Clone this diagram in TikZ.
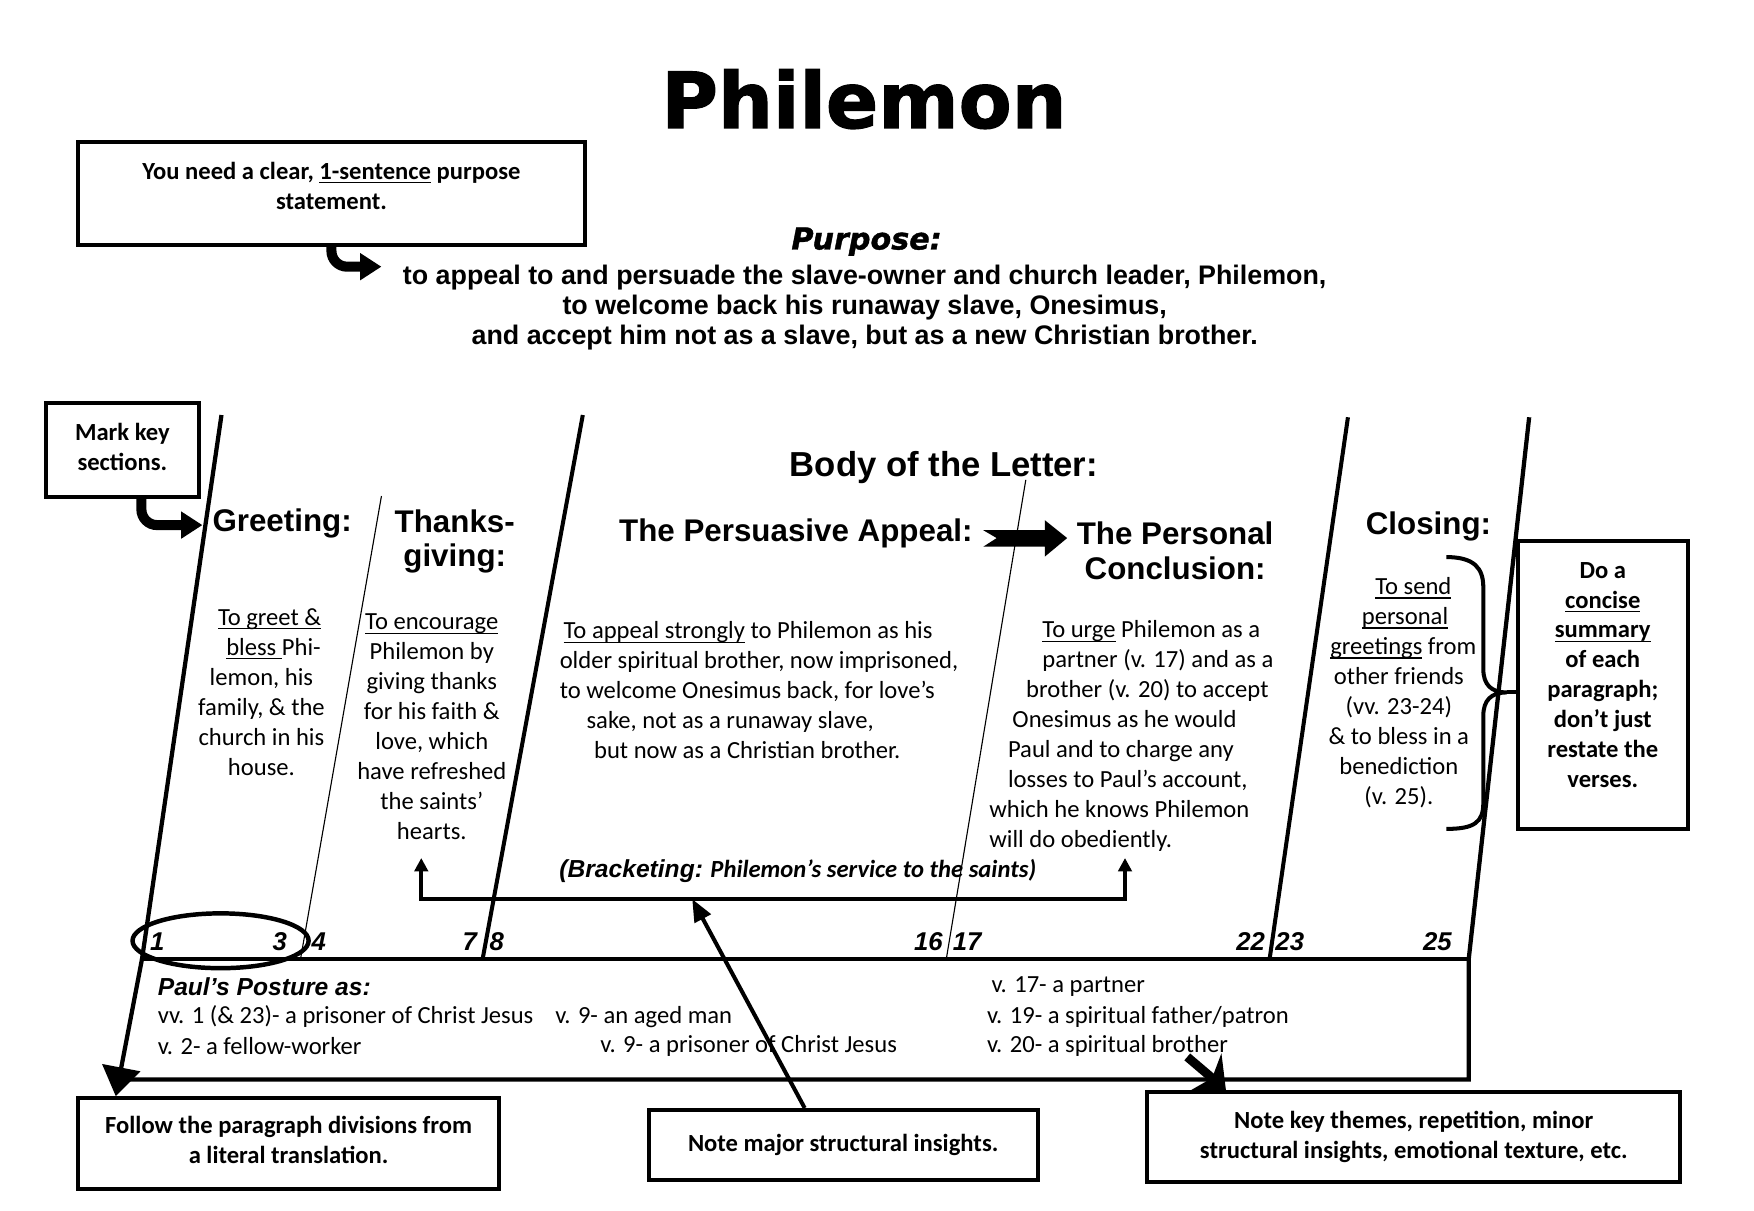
\documentclass[tikz,border=0pt]{standalone}
\usepackage{fontspec}
\setmainfont{Carlito}
\newfontfamily\arialfont{Liberation Sans}
\newfontfamily\heavyfont[FakeBold=1.6]{DejaVu Sans Bold}
\newfontfamily\heavyslant[FakeBold=1.2]{DejaVu Sans Bold Oblique}
\usepackage{tikz}
\usetikzlibrary{shapes.geometric, arrows.meta, calc}
\newsavebox\ulbox
\newcommand{\uln}[1]{\sbox\ulbox{#1}\rlap{\rule[-1.8pt]{\wd\ulbox}{0.5pt}}\usebox\ulbox}
\tikzstyle{notebox} = [draw, line width=1.8pt, align=center, inner sep=0pt, font=\bfseries\fontsize{11}{13.4}\selectfont]
\tikzstyle{header} = [align=center, inner sep=0pt, font=\arialfont\bfseries\fontsize{14}{15.6}\selectfont]
\tikzstyle{bodytext} = [align=center, inner sep=0pt, font=\fontsize{11}{13.4}\selectfont]
\tikzstyle{bodyleft} = [bodytext, align=left, anchor=west]
\tikzstyle{vnum} = [inner sep=0pt, font=\arialfont\bfseries\itshape\fontsize{11.5}{13}\selectfont]
\tikzstyle{posture} = [inner sep=0pt, anchor=west, font=\fontsize{11}{13.4}\selectfont]
\tikzstyle{divthick} = [line width=1.8pt]
\tikzstyle{divthin} = [line width=0.5pt]
\tikzstyle{boxline} = [line width=1.9pt]
\tikzstyle{bentarrow} = [line width=4.5pt, rounded corners=7pt, -{Triangle[length=9.5pt, width=11.5pt]}]
\tikzstyle{fatarrow} = [line width=4pt, -{Stealth[length=12pt, width=22pt]}]
\tikzstyle{pointer} = [line width=1.8pt, -{Triangle[length=10pt, width=8pt]}]
\tikzstyle{bracketline} = [line width=1.8pt, {Triangle[length=6pt, width=6pt]}-{Triangle[length=6pt, width=6pt]}]

\begin{document}
\begin{tikzpicture}[x=0.5pt, y=-0.5pt]
\useasboundingbox (0,0) rectangle (1568,1082);

% title and purpose statement
\node (title) [inner sep=0pt, font=\heavyfont\fontsize{34.5}{40}\selectfont] at (772.4,88.6) {Philemon};
\node (sentbox) [notebox, minimum width=226.7pt, minimum height=46.2pt] at (296.3,172.9) {You need a clear, \uln{1-sentence} purpose\\statement.\rule[-7pt]{0pt}{0pt}};
\node (purposehead) [inner sep=0pt, font=\heavyslant\fontsize{13.5}{16}\selectfont] at (774.7,216) {Purpose:};
\node (purposetext) [align=center, inner sep=0pt, font=\arialfont\bfseries\fontsize{12}{13.4}\selectfont] at (773,275) {to appeal to and persuade the slave-owner and church leader, Philemon,\\to welcome back his runaway slave, Onesimus,\\and accept him not as a slave, but as a new Christian brother.};
\coordinate (purposetip) at (341,238.4);
\draw[bentarrow] (sentbox.south) |- (purposetip);

% section dividers
\coordinate (l1top) at (198,371);   \coordinate (l1row) at (127,857);
\coordinate (l2top) at (341,443.4); \coordinate (l2row) at (268.7,857);
\coordinate (l3top) at (521,371);   \coordinate (l3row) at (431.5,857);
\coordinate (l4top) at (917,429);   \coordinate (l4row) at (846,857);
\coordinate (l5top) at (1205,373);  \coordinate (l5row) at (1135,857);
\coordinate (l6top) at (1367,373);  \coordinate (l6row) at (1313,857);
\coordinate (boxSE) at (1313,965);  \coordinate (boxSW) at (112,965);

\node (markbox) [notebox, minimum width=68.35pt, minimum height=41.75pt] at (109.4,402.3) {Mark key\\sections.\rule[-3pt]{0pt}{0pt}};
\coordinate (marktip) at (181,469.4);
\draw[bentarrow] ($(markbox.south)+(17,0)$) |- (marktip);

\draw[divthin] (l2top) -- (l2row);
\draw[divthin] (l4top) -- (l4row);
\draw[divthick] (l3top) -- (l3row);
\draw[divthick] (l5top) -- (l5row);
\draw[boxline] (l6top) -- (l6row) -- (boxSE) -- (boxSW);
\draw[boxline] (l1row) -- (l6row);

% headers
\node (bodyhead) [header, font=\arialfont\bfseries\fontsize{15.5}{17}\selectfont] at (843.8,418) {Body of the Letter:};
\node (greethead) [header] at (252.2,468) {Greeting:};
\node (thankshead) [header] at (406.5,484) {Thanks-\\giving:};
\node (appealhead) [header] at (711.5,477) {The Persuasive Appeal:};
\node (personalhead) [header] at (1050.5,492) {The Personal\\Conclusion:};
\node (closinghead) [header] at (1277,470.5) {Closing:};
\fill (879,474) -- (934,474) -- (934,465) -- (954,481) -- (934,497.6) -- (934,488.7) -- (879,488.7) -- (891,481) -- cycle;

% paragraph summaries
\node (greetbody) [bodytext] at (233.7,618.4) {\hspace*{7.3pt}\uln{To greet \&}\\\hspace*{10.8pt}\uln{bless\ }Phi-\\lemon, his\\family, \& the\\church in his\\house.};
\node (thanksbody) [bodytext] at (386,649.7) {\uln{To encourage}\\Philemon by\\giving thanks\\for his faith \&\\love, which\\have refreshed\\the saints’\\hearts.};
\node (appealbody) [bodyleft] at (500,617) {\hspace*{1.75pt}\uln{To appeal strongly} to Philemon as his\\older spiritual brother, now imprisoned,\\to welcome Onesimus back, for love’s\\\hspace*{12pt}sake, not as a runaway slave,\\\hspace*{15.35pt}but now as a Christian brother.};
\node (personalbody) [bodyleft] at (884,658) {\hspace*{23.75pt}\uln{To urge} Philemon as a\\\hspace*{23.75pt}partner (v. 17) and as a\\\hspace*{16.5pt}brother (v. 20) to accept\\\hspace*{10.35pt}Onesimus as he would\\\hspace*{8.35pt}Paul and to charge any\\\hspace*{8.35pt}losses to Paul’s account,\\which he knows Philemon\\will do obediently.};
\node (closingbody) [bodytext] at (1250.5,619.2) {\hspace*{13pt}\uln{To send}\\\hspace*{5.5pt}\uln{personal}\\\hspace*{4pt}\uln{greetings} from\\other friends\\(vv. 23-24)\\\& to bless in a\\benediction\\(v. 25).};

% brace to the summary note
\node (dobox) [notebox, minimum width=75.8pt, minimum height=128.35pt] at (1432.8,612.4) {Do a\\\uln{concise}\\\uln{summary}\\of each\\paragraph;\\don’t just\\restate the\\verses.\rule[-9pt]{0pt}{0pt}};
\coordinate (bracetip) at (1347,619);
\draw[line width=1.8pt] (1293,498) .. controls (1318,498) and (1326,508) .. (1326,525) -- (1326,598) .. controls (1326,612) and (1333,619) .. (bracetip) .. controls (1333,619) and (1326,626) .. (1326,640) -- (1326,718) .. controls (1326,735) and (1318,741) .. (1293,741);
\draw[line width=1.8pt] (bracetip) -- (dobox.west |- bracetip);

% bracketing
\node (brackettext) [inner sep=0pt, font=\bfseries\itshape\fontsize{11}{13}\selectfont] at (713.2,778.5) {{\arialfont (Bracketing:} Philemon’s service to the saints)};
\coordinate (brLtop) at (376.6,767); \coordinate (brL) at (376.6,803.7);
\coordinate (brRtop) at (1005.7,767); \coordinate (brR) at (1005.7,803.7);
\draw[bracketline] (brLtop) -- (brL) -- (brR) -- (brRtop);

% verse numbers
\node (n1) [vnum] at (140.7,842) {1};
\node (n3) [vnum] at (250,842) {3};
\node (n4) [vnum] at (285,842) {4};
\node (n7) [vnum] at (420,842) {7};
\node (n8) [vnum] at (444,842) {8};
\node (n16) [vnum] at (830,842) {16};
\node (n17) [vnum] at (864.5,842) {17};
\node (n22) [vnum] at (1118,842) {22};
\node (n23) [vnum] at (1153,842) {23};
\node (n25) [vnum] at (1285,842) {25};
\node (versering) [draw, ellipse, line width=2pt, inner sep=0pt, minimum width=78.7pt, minimum height=24.5pt] at (197.2,841) {};

% Paul's posture
\node (posturehead) [posture, font=\arialfont\bfseries\itshape\fontsize{11}{13}\selectfont] at (140.7,882) {Paul’s Posture as:};
\node (prisoner) [posture] at (140.7,909) {vv. 1 (\& 23)- a prisoner of Christ Jesus};
\node (fellow) [posture] at (140.7,935) {v. 2- a fellow-worker};
\node (aged) [posture] at (496,909) {v. 9- an aged man};
\node (prisoner2) [posture] at (536.4,935) {v. 9- a prisoner of Christ Jesus};
\node (partner) [posture] at (886,882) {v. 17- a partner};
\node (patron) [posture] at (882,909) {v. 19- a spiritual father/patron};
\node (brother) [posture] at (882,935) {v. 20- a spiritual brother};

% notes at the bottom
\node (followbox) [notebox, minimum width=188pt, minimum height=40.65pt] at (258,1022.4) {Follow the paragraph divisions from\\a literal translation.\rule[-3pt]{0pt}{0pt}};
\node (majorbox) [notebox, minimum width=173.75pt, minimum height=31.35pt] at (753.75,1023.65) {Note major structural insights.};
\node (themebox) [notebox, minimum width=238.15pt, minimum height=40.2pt] at (1263.85,1016.2) {Note key themes, repetition, minor\\structural insights, emotional texture, etc.};

\draw[boxline, -{Triangle[length=13pt, width=17pt]}] (l1top) -- (l1row) -- ($(followbox.north west)!0.093!(followbox.north east)$);
\draw[pointer] ($(majorbox.north west)!0.402!(majorbox.north east)$) -- ($(brL)!0.385!(brR)$);
\draw[fatarrow] ($(brother.south west)!0.83!(brother.south east)$) -- ($(themebox.north west)!0.15!(themebox.north east)$);

\end{tikzpicture}
\end{document}
